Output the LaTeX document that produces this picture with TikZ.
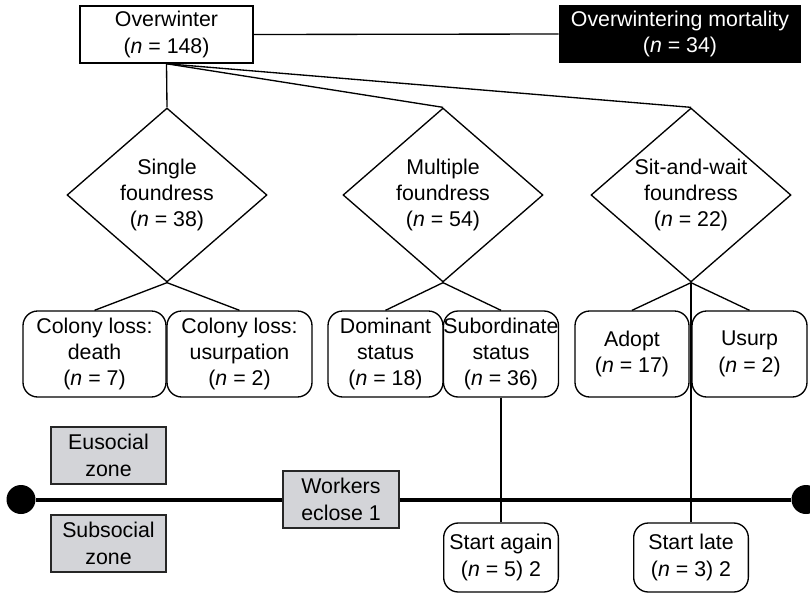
\documentclass[tikz,border=0pt]{standalone}
\usepackage{fontspec}
\setmainfont{Liberation Sans}
\usepackage{tikz}
\usetikzlibrary{positioning, shapes.geometric}

\definecolor{zonegray}{RGB}{211,212,216}

\begin{document}
\begin{tikzpicture}[x=0.75pt, y=-0.75pt,
  font=\fontsize{16pt}{19.75pt}\selectfont,
  every node/.style={align=center, inner sep=0pt},
  plainbox/.style={draw, line width=1.1pt, rectangle, minimum height=42.75pt},
  deadbox/.style={fill=black, text=white, rectangle, minimum width=181.5pt, minimum height=43.5pt},
  choice/.style={draw, line width=1pt, diamond, aspect=1.15, minimum width=150pt, minimum height=130.5pt},
  outcome/.style={draw, line width=1pt, rectangle, rounded corners=11pt, minimum height=64.5pt},
  restart/.style={draw, line width=1pt, rectangle, rounded corners=11pt, minimum width=86pt, minimum height=51.75pt},
  zone/.style={draw=black!85, fill=zonegray, line width=1.1pt, rectangle, minimum width=86.25pt, minimum height=42.75pt},
  link/.style={line width=1pt},
  dot/.style={circle, fill=black, minimum size=21.75pt}]
\useasboundingbox (0,0) rectangle (810,593);

\node[plainbox, minimum width=129.75pt] (ow) at (166.5,34.5) {Overwinter\\(\textit{n} = 148)};
\node[deadbox] (owdead) at (680,34) {Overwintering mortality\\(\textit{n} = 34)};

\node[choice] (single) at (167,195) {Single\\foundress\\(\textit{n} = 38)};
\node[choice] (multi) at (443,195) {Multiple\\foundress\\(\textit{n} = 54)};
\node[choice] (sitwait) at (691,195) {Sit-and-wait\\foundress\\(\textit{n} = 22)};

\node[outcome, minimum width=107.25pt] (death) at (94.5,354) {Colony loss:\\death\\(\textit{n} = 7)};
\node[outcome, minimum width=108.75pt] (usurpation) at (239.5,354) {Colony loss:\\usurpation\\(\textit{n} = 2)};
\node[outcome, minimum width=86.25pt] (dominant) at (385.5,354) {Dominant\\status\\(\textit{n} = 18)};
\node[outcome, minimum width=85.5pt] (subord) at (501,354) {Subordinate\\status\\(\textit{n} = 36)};
\node[outcome, minimum width=85.5pt] (adopt) at (632,354) {Adopt\\(\textit{n} = 17)};
\node[outcome, minimum width=86.25pt] (usurp) at (749.5,354) {Usurp\\(\textit{n} = 2)};

\node[zone] (eusocial) at (108.5,455.5) {Eusocial\\zone};
\node[zone] (subsocial) at (108.5,543.5) {Subsocial\\zone};
\node[zone, minimum width=87pt] (workers) at (341,499.5) {Workers\\eclose 1};

\node[restart] (again) at (501,557.5) {Start again\\(\textit{n} = 5) 2};
\node[restart] (late) at (691,557.5) {Start late\\(\textit{n} = 3) 2};

\node[dot] (leftend) at (21,499.5) {};
\node[dot] (rightend) at (806,499.5) {};

\draw[line width=3pt] (leftend) -- (workers.west);
\draw[line width=3pt] (workers.east) -- (rightend);

\draw[link] (ow.east) -- (owdead.west);
\draw[link] (ow.south) -- (single.north);
\draw[link] (ow.south) -- (multi.north);
\draw[link] (ow.south) -- (sitwait.north);

\draw[link] (single.south) -- (death.north);
\draw[link] (single.south) -- (usurpation.north);
\draw[link] (multi.south) -- (dominant.north);
\draw[link] (multi.south) -- (subord.north);
\draw[link] (sitwait.south) -- (adopt.north);
\draw[link] (sitwait.south) -- (usurp.north);

\draw[link] (subord.south) -- (again.north);
\draw[link] (sitwait.south) -- (late.north);
\end{tikzpicture}
\end{document}
